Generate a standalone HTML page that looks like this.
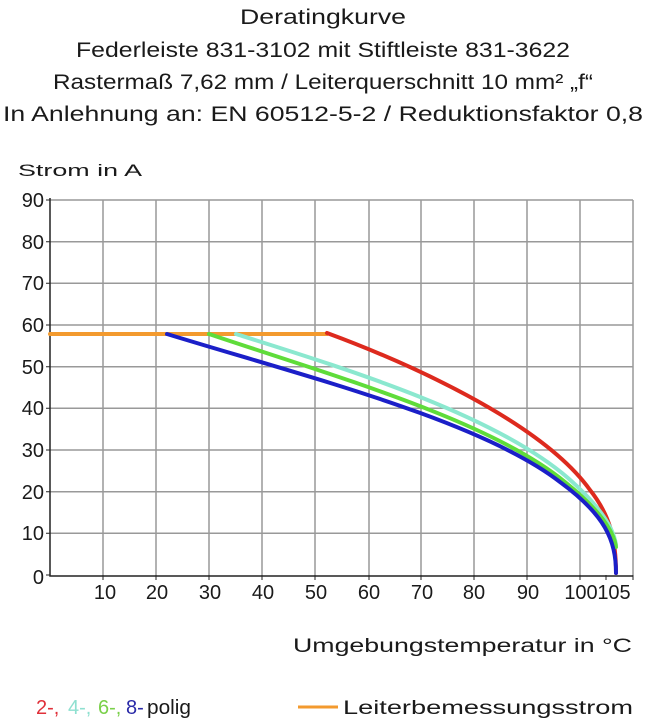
<!DOCTYPE html>
<html><head><meta charset="utf-8"><style>
html,body{margin:0;padding:0;background:#fff;}
svg{display:block;}
text{font-family:"Liberation Sans",sans-serif;fill:#1a1a1a;}
</style></head><body>
<svg width="647" height="720" viewBox="0 0 647 720" xmlns="http://www.w3.org/2000/svg">
<g font-size="21" text-anchor="middle">
<text x="323" y="24" textLength="166" lengthAdjust="spacingAndGlyphs">Deratingkurve</text>
<text x="323" y="57" textLength="494" lengthAdjust="spacingAndGlyphs">Federleiste 831-3102 mit Stiftleiste 831-3622</text>
<text x="323" y="89" textLength="540" lengthAdjust="spacingAndGlyphs">Rastermaß 7,62 mm / Leiterquerschnitt 10 mm² „f“</text>
<text x="323" y="121" textLength="640" lengthAdjust="spacingAndGlyphs">In Anlehnung an: EN 60512-5-2 / Reduktionsfaktor 0,8</text>
</g>
<text x="18" y="176" font-size="17" textLength="124" lengthAdjust="spacingAndGlyphs">Strom in A</text>
<g stroke="#999" stroke-width="1.5" fill="none">
<path d="M50 200H633M50 241.7H633M50 283.3H633M50 325H633M50 366.7H633M50 408.3H633M50 450H633M50 491.7H633M50 533.3H633"/>
<path d="M103 200V575M156 200V575M209 200V575M262 200V575M315 200V575M369 200V575M421 200V575M474 200V575M527 200V575M580 200V575M633 200V575"/>
</g>
<g stroke="#222" stroke-width="1.5" fill="none"><path d="M50 198V576H633"/></g>
<g stroke="#222" stroke-width="1" fill="none">
<path d="M46 200H50M46 241.7H50M46 283.3H50M46 325H50M46 366.7H50M46 408.3H50M46 450H50M46 491.7H50M46 533.3H50M46 575H50"/>
<path d="M103 575V580M156 575V580M209 575V580M262 575V580M315 575V580M369 575V580M421 575V580M474 575V580M527 575V580M580 575V580M606 575V580M633 575V580"/>
</g>
<g font-size="20" text-anchor="end">
<text x="44" y="207">90</text><text x="44" y="249">80</text><text x="44" y="290">70</text>
<text x="44" y="332">60</text><text x="44" y="374">50</text><text x="44" y="415">40</text>
<text x="44" y="457">30</text><text x="44" y="499">20</text><text x="44" y="540">10</text>
<text x="44" y="584">0</text>
</g>
<g font-size="20" text-anchor="middle">
<text x="105" y="599">10</text><text x="157" y="599">20</text><text x="210" y="599">30</text>
<text x="263" y="599">40</text><text x="316" y="599">50</text><text x="369" y="599">60</text>
<text x="422" y="599">70</text><text x="474" y="599">80</text><text x="528" y="599">90</text>
<text x="581" y="599">100</text><text x="614" y="599">105</text>
</g>
<g fill="none" stroke-width="4" stroke-linecap="round" stroke-linejoin="round">
<path d="M50 334H327" stroke="#f39a2e"/>
<path d="M327 333C400 360 540 420 590 490C610 515 616 540 616 573" stroke="#dd2a1e"/>
<path d="M236 334C350 370 495 415 568 478C602 508 614 530 616 545" stroke="#8be8cf"/>
<path d="M209 334C330 375 490 420 565 482C600 510 614 532 616 547" stroke="#5fdc3a"/>
<path d="M167 334C300 375 480 420 560 482C605 515 616 540 616 573" stroke="#1b1fc8"/>
</g>
<text x="632" y="652" font-size="19" text-anchor="end" textLength="339" lengthAdjust="spacingAndGlyphs">Umgebungstemperatur in °C</text>
<g font-size="20">
<text x="36" y="714" style="fill:#e0303a">2-,</text>
<text x="68" y="714" style="fill:#8fe0d0">4-,</text>
<text x="98" y="714" style="fill:#7ad04a">6-,</text>
<text x="126" y="714" style="fill:#2a2aa8">8-</text>
<text x="147" y="714" textLength="44" lengthAdjust="spacingAndGlyphs">polig</text>
</g>
<path d="M298 707H338" stroke="#f39a2e" stroke-width="3"/>
<text x="343" y="714" font-size="19" textLength="290" lengthAdjust="spacingAndGlyphs">Leiterbemessungsstrom</text>
</svg>
</body></html>
